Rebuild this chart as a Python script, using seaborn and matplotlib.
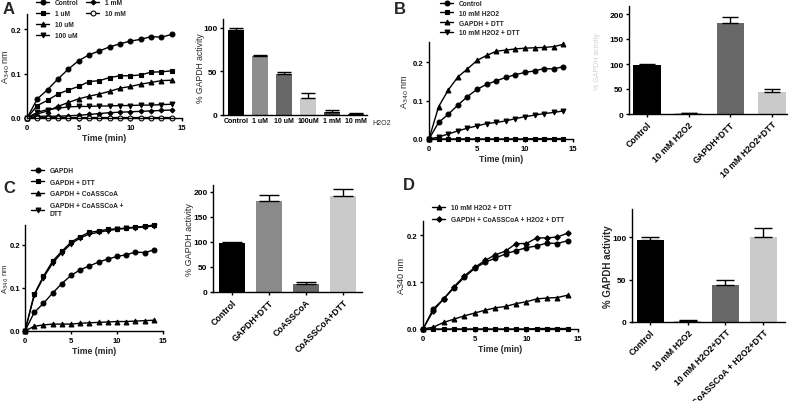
import numpy as np
import matplotlib
matplotlib.use("Agg")
import matplotlib.pyplot as plt
import matplotlib.transforms as mtransforms
import seaborn as sns

# ---- kinetic data (A340 nm vs time) ----
time_min = list(range(15))
control = [0, 0.043, 0.064, 0.088, 0.110, 0.129, 0.142, 0.151, 0.160, 0.167, 0.173, 0.177, 0.183, 0.182, 0.188]
h2o2_1um = [0, 0.028, 0.040, 0.054, 0.063, 0.071, 0.082, 0.084, 0.091, 0.095, 0.095, 0.097, 0.103, 0.104, 0.106]
h2o2_10um = [0, 0.009, 0.016, 0.026, 0.035, 0.043, 0.049, 0.054, 0.060, 0.067, 0.071, 0.076, 0.080, 0.084, 0.085]
h2o2_100um = [0, 0.013, 0.019, 0.022, 0.025, 0.026, 0.026, 0.027, 0.027, 0.028, 0.028, 0.029, 0.029, 0.030, 0.031]
h2o2_1mm = [0, 0.004, 0.004, 0.004, 0.005, 0.006, 0.008, 0.010, 0.012, 0.013, 0.014, 0.015, 0.016, 0.017, 0.018]
h2o2_10mm = [0, 0.001, 0.001, 0.001, 0.001, 0.001, 0.001, 0.001, 0.001, 0.001, 0.001, 0.001, 0.001, 0.001, 0.001]

gapdh_dtt = [0, 0.084, 0.127, 0.161, 0.182, 0.204, 0.217, 0.228, 0.231, 0.234, 0.236, 0.237, 0.238, 0.240, 0.246]
h2o2_zero = [0, 0.000, 0.000, 0.000, 0.000, 0.000, 0.000, 0.000, 0.000, 0.000, 0.000, 0.001, 0.001, 0.001, 0.001]
h2o2_dtt = [0, 0.005, 0.013, 0.021, 0.028, 0.034, 0.040, 0.043, 0.047, 0.053, 0.058, 0.062, 0.066, 0.069, 0.073]

gapdh_dtt_c = [0, 0.085, 0.127, 0.162, 0.185, 0.206, 0.219, 0.229, 0.232, 0.236, 0.237, 0.239, 0.241, 0.243, 0.246]
coasscoa = [0, 0.011, 0.014, 0.016, 0.016, 0.016, 0.018, 0.019, 0.020, 0.021, 0.022, 0.022, 0.023, 0.024, 0.025]
coasscoa_dtt = [0, 0.083, 0.124, 0.157, 0.182, 0.202, 0.216, 0.225, 0.229, 0.233, 0.236, 0.238, 0.240, 0.241, 0.244]

h2o2_dtt_d = [0, 0.004, 0.014, 0.021, 0.028, 0.034, 0.040, 0.045, 0.048, 0.054, 0.058, 0.064, 0.066, 0.067, 0.072]
rescue = [0, 0.039, 0.064, 0.090, 0.113, 0.131, 0.146, 0.158, 0.166, 0.182, 0.182, 0.194, 0.194, 0.196, 0.204]

# ---- bar data (% GAPDH activity, mean and top of error bar) ----
a_cats = ["Control", "1 uM", "10 uM", "100uM", "1 mM", "10 mM"]
a_vals = [97, 68, 47, 20, 4, 1]
a_tops = [100, 69, 49, 25, 6, 2.3]
a_colors = ["#000000", "#8e8e8e", "#686868", "#cacaca", "#474747", "#474747"]

b_cats = ["Control", "10 mM H2O2", "GAPDH+DTT", "10 mM H2O2+DTT"]
b_vals = [98, 1.5, 182, 44]
b_tops = [101, 2.5, 194, 50]
b_colors = ["#000000", "#bdbdbd", "#686868", "#cacaca"]

c_cats = ["Control", "GAPDH+DTT", "CoASSCoA", "CoASSCoA+DTT"]
c_vals = [98, 182, 17, 192]
c_tops = [100, 194, 21, 207]
c_colors = ["#000000", "#8a8a8a", "#686868", "#cacaca"]

d_cats = ["Control", "10 mM H2O2", "10 mM H2O2+DTT", "CoASSCoA + H2O2+DTT"]
d_vals = [97, 1.5, 43, 100]
d_tops = [100, 2.5, 50, 111]
d_colors = ["#000000", "#bdbdbd", "#686868", "#cacaca"]

sns.set_style("ticks")
plt.rcParams["font.family"] = ["Liberation Sans", "DejaVu Sans"]

W, H = 793, 402
fig = plt.figure(figsize=(W / 100, H / 100), dpi=100)


def px_axes(left, top, right, bottom):
    return fig.add_axes([left / W, 1 - bottom / H, (right - left) / W, (bottom - top) / H])


def place_ylabel(ax, right_px):
    # right edge of the rotated y label at a given pixel column
    tr = mtransforms.blended_transform_factory(fig.transFigure, ax.transAxes)
    ax.yaxis.set_label_coords(right_px / W, 0.5, transform=tr)


def style_axes(ax, size=5.5):
    sns.despine(ax=ax)
    for s in ["left", "bottom"]:
        ax.spines[s].set_linewidth(1.0)
        ax.spines[s].set_color("black")
    ax.tick_params(length=2.5, width=1.0, pad=1.5, labelsize=size, colors="black")
    for lab in ax.get_xticklabels() + ax.get_yticklabels():
        lab.set_fontweight("bold")


def line_panel(ax, series, ymax, ylabel, label_px, label_size=6.5):
    for values, marker, face, label, msize in series:
        sns.lineplot(x=time_min, y=values, ax=ax, color="black", marker=marker,
                     markersize=msize, markerfacecolor=face, markeredgecolor="black",
                     markeredgewidth=0.8, linewidth=1.0, label=label, legend=False,
                     clip_on=False, errorbar=None)
    ax.set_xlim(0, 15)
    ax.set_ylim(0, ymax)
    ax.set_xticks([0, 5, 10, 15])
    ax.set_yticks([0.0, 0.1, 0.2])
    ax.set_yticklabels(["0.0", "0.1", "0.2"])
    style_axes(ax)
    ax.set_xlabel("Time (min)", fontsize=6.3, fontweight="bold", labelpad=2)
    ax.set_ylabel(ylabel, fontsize=label_size)
    place_ylabel(ax, label_px)


def bar_panel(ax, cats, vals, tops, colors, ymax, yticks, width, cap, xlim):
    sns.barplot(x=cats, y=vals, hue=cats, hue_order=cats, order=cats, palette=colors,
                legend=False, width=width, saturation=1, linewidth=0, ax=ax)
    err = np.array(tops) - np.array(vals)
    ax.errorbar(range(len(cats)), vals, yerr=[np.zeros(len(cats)), err], fmt="none",
                ecolor="black", elinewidth=1.0, capsize=cap, capthick=1.0, zorder=3)
    ax.set_ylim(0, ymax)
    ax.set_xlim(*xlim)
    ax.set_yticks(yticks)
    style_axes(ax, 6)


def add_legend(ax, handles, labels, x, y, spacing):
    return ax.legend(handles, labels, loc="upper left", bbox_to_anchor=(x / W, 1 - y / H),
                     bbox_transform=fig.transFigure, frameon=False,
                     prop=dict(size=4.8, weight="bold"), handlelength=2.0,
                     handletextpad=0.8, labelspacing=spacing, borderpad=0, borderaxespad=0)


# ---------------- Panel A ----------------
ax = px_axes(27, 15, 182, 119)
line_panel(ax, [(control, "o", "black", "Control", 3.5),
                (h2o2_1um, "s", "black", "1 uM", 3.5),
                (h2o2_10um, "^", "black", "10 uM", 3.5),
                (h2o2_100um, "v", "black", "100 uM", 3.5),
                (h2o2_1mm, "D", "black", "1 mM", 2.5),
                (h2o2_10mm, "o", "white", "10 mM", 3.5)], 0.234, r"A$_{340}$ nm", 12)
h, l = ax.get_legend_handles_labels()
leg1 = add_legend(ax, h[:4], l[:4], 36, 0, 0.6)
ax.add_artist(leg1)
add_legend(ax, h[4:], l[4:], 86, 0, 0.6)

ax = px_axes(223, 20, 367, 116)
bar_panel(ax, a_cats, a_vals, a_tops, a_colors, 110, [0, 50, 100], 0.67, 5, (-0.54, 5.46))
ax.tick_params(axis="x", length=0, labelsize=5)
ax.set_ylabel("% GAPDH activity", fontsize=6.2)
place_ylabel(ax, 205)
fig.text(372 / W, 1 - 124 / H, "H2O2", fontsize=5, ha="left", va="center")

# ---------------- Panel B ----------------
ax = px_axes(429, 43, 573, 140)
line_panel(ax, [(control, "o", "black", "Control", 3.5),
                (h2o2_zero, "s", "black", "10 mM H2O2", 3.5),
                (gapdh_dtt, "^", "black", "GAPDH + DTT", 3.5),
                (h2o2_dtt, "v", "black", "10 mM H2O2 + DTT", 3.5)], 0.252, r"A$_{340}$ nm", 411)
h, l = ax.get_legend_handles_labels()
add_legend(ax, h, l, 440, 1, 0.42)

ax = px_axes(629, 7, 787, 115)
bar_panel(ax, b_cats, b_vals, b_tops, b_colors, 216, [0, 50, 100, 150, 200], 0.66, 6, (-0.43, 3.36))
ax.set_xticks(range(4))
ax.set_xticklabels(b_cats, rotation=45, ha="right", rotation_mode="anchor", fontsize=6.3, fontweight="bold")
ax.set_ylabel("% GAPDH activity", fontsize=5, color="#d0d0d0")
place_ylabel(ax, 601)

# ---------------- Panel C ----------------
ax = px_axes(25, 226, 163, 332)
line_panel(ax, [(control, "o", "black", "GAPDH", 3.5),
                (gapdh_dtt_c, "s", "black", "GAPDH + DTT", 3.5),
                (coasscoa, "^", "black", "GAPDH + CoASSCoA", 3.5),
                (coasscoa_dtt, "v", "black", "GAPDH + CoASSCoA +\nDTT", 3.5)], 0.246,
           r"A$_{340}$ nm", 11, label_size=5.6)
ax.tick_params(axis="y", pad=1.0)
h, l = ax.get_legend_handles_labels()
add_legend(ax, h, l, 31, 168, 0.7)

ax = px_axes(213, 186, 362, 293)
bar_panel(ax, c_cats, c_vals, c_tops, c_colors, 214, [0, 50, 100, 150, 200], 0.7, 7.5, (-0.51, 3.51))
ax.set_xticks(range(4))
ax.set_xticklabels(c_cats, rotation=45, ha="right", rotation_mode="anchor", fontsize=6.3, fontweight="bold")
ax.set_ylabel("% GAPDH activity", fontsize=6.5)
place_ylabel(ax, 194)

# ---------------- Panel D ----------------
ax = px_axes(423, 222, 578, 330)
line_panel(ax, [(control, "o", "black", "_control", 3.5),
                (h2o2_zero, "s", "black", "_h2o2", 3.5),
                (h2o2_dtt_d, "^", "black", "10 mM H2O2 + DTT", 3.5),
                (rescue, "D", "black", "GAPDH + CoASSCoA + H2O2 + DTT", 2.8)], 0.23, "A340 nm", 406)
h, l = ax.get_legend_handles_labels()
add_legend(ax, h, l, 432, 205, 0.75)

ax = px_axes(632, 210, 785, 323)
bar_panel(ax, d_cats, d_vals, d_tops, d_colors, 133, [0, 50, 100], 0.72, 6.5, (-0.48, 3.58))
ax.set_xticks(range(4))
ax.set_xticklabels(d_cats, rotation=45, ha="right", rotation_mode="anchor", fontsize=6.3, fontweight="bold")
ax.set_ylabel("% GAPDH activity", fontsize=7, fontweight="bold")
place_ylabel(ax, 613)

# panel letters
for letter, x, y in [("A", 3, 9), ("B", 394, 9), ("C", 3, 189), ("D", 403, 186)]:
    fig.text(x / W, 1 - y / H, letter, fontsize=12, fontweight="bold", ha="left", va="center")

fig.savefig("out.png", dpi=100)
